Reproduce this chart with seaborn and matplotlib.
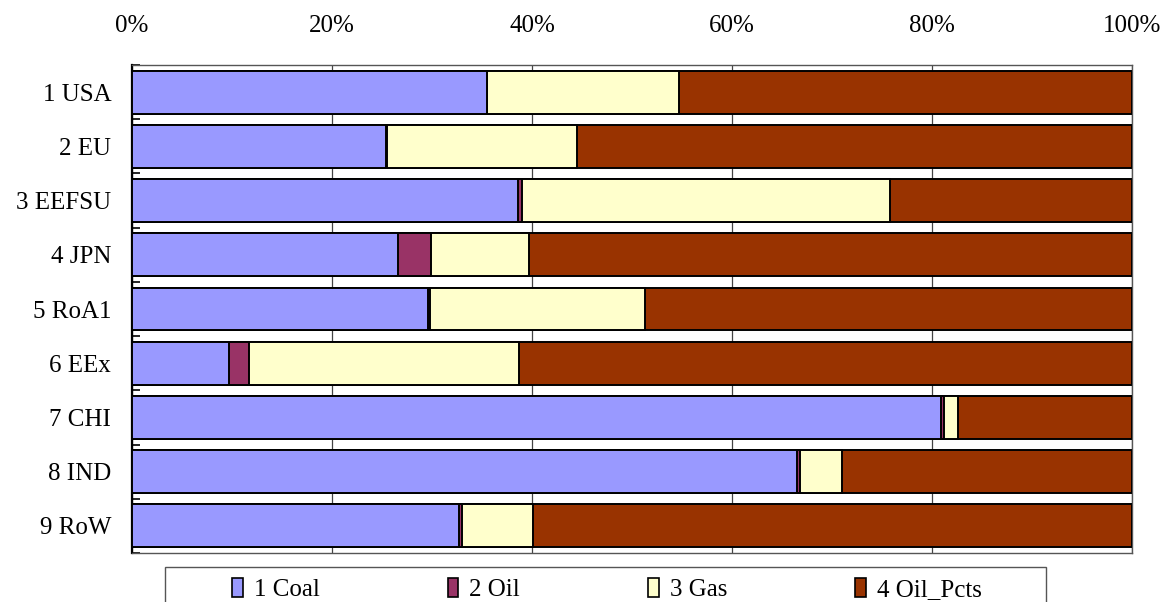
import matplotlib
matplotlib.use("Agg")
import matplotlib.pyplot as plt
import seaborn as sns
import pandas as pd
import numpy as np
from matplotlib.patches import Patch, Rectangle

# Regional shares (%) of each fuel category
regions = ["1 USA", "2 EU", "3 EEFSU", "4 JPN", "5 RoA1", "6 EEx", "7 CHI", "8 IND", "9 RoW"]
coal = [35.45, 25.4, 38.6, 26.6, 29.6, 9.7, 80.9, 66.5, 32.7]
oil = [0.05, 0.1, 0.4, 3.3, 0.2, 2.0, 0.3, 0.3, 0.25]
gas = [19.15, 18.95, 36.8, 9.8, 21.5, 27.0, 1.4, 4.2, 7.15]
oil_pcts = [100 - c - o - g for c, o, g in zip(coal, oil, gas)]

series_names = ["1 Coal", "2 Oil", "3 Gas", "4 Oil_Pcts"]
series_colors = ["#9999FF", "#993366", "#FFFFCC", "#993300"]

df = pd.DataFrame({"region": regions, "1 Coal": coal, "2 Oil": oil,
                   "3 Gas": gas, "4 Oil_Pcts": oil_pcts})
cum = df[series_names].cumsum(axis=1)
cum["region"] = df["region"]

sns.set_style("white")
plt.rcParams["font.family"] = ["Liberation Serif", "DejaVu Serif"]
plt.rcParams["text.color"] = "black"
plt.rcParams["xtick.color"] = "black"
plt.rcParams["ytick.color"] = "black"

FS = 18

fig = plt.figure(figsize=(11.65, 6.02), dpi=100)
ax = fig.add_axes([132 / 1165, 1 - 553 / 602, 1000 / 1165, 488 / 602])

# Stacked bars: draw cumulative totals from the outermost segment inward
for name, color in reversed(list(zip(series_names, series_colors))):
    sns.barplot(data=cum, x=name, y="region", orient="h", color=color,
                width=0.79, edgecolor="black", linewidth=1.4,
                saturation=1, ax=ax, zorder=3)

ax.set_xlim(0, 100)
ax.set_ylim(len(regions) - 0.5, -0.5)
ax.set_xlabel("")
ax.set_ylabel("")

ax.xaxis.tick_top()
ax.set_xticks(np.arange(0, 101, 20))
ax.set_xticklabels([f"{v}%" for v in range(0, 101, 20)])
ax.tick_params(axis="x", length=0, pad=20, labelsize=FS, labelcolor="black")
ax.grid(axis="x", color="#444444", linewidth=0.9, zorder=0)
ax.set_axisbelow(True)

ax.tick_params(axis="y", which="major", length=0, pad=15, labelsize=FS,
               labelcolor="black")
ax.set_yticks(np.arange(-0.5, len(regions), 1.0), minor=True)
ax.tick_params(axis="y", which="minor", direction="in", length=6,
               width=1.2, color="black", left=True)

for side in ["top", "right", "bottom"]:
    ax.spines[side].set_color("#555555")
    ax.spines[side].set_linewidth(1.0)
ax.spines["left"].set_color("black")
ax.spines["left"].set_linewidth(1.6)

# Legend box running off the bottom edge
fig.add_artist(Rectangle((165 / 1165, -0.05), 881 / 1165, 0.05 + 1 - 567 / 602,
                         transform=fig.transFigure, facecolor="white",
                         edgecolor="#555555", linewidth=1.0))
handles = [Patch(facecolor=c, edgecolor="black", linewidth=1.2, label=n)
           for n, c in zip(series_names, series_colors)]
leg = fig.legend(handles=handles, loc="upper center", ncol=4,
                 bbox_to_anchor=(607 / 1165, 1 - 573 / 602),
                 frameon=False, fontsize=FS, handlelength=0.42,
                 handleheight=0.8, handletextpad=0.45, columnspacing=5.12,
                 borderpad=0.2, borderaxespad=0)
for t in leg.get_texts():
    t.set_color("black")

fig.savefig("out.png", dpi=100)
